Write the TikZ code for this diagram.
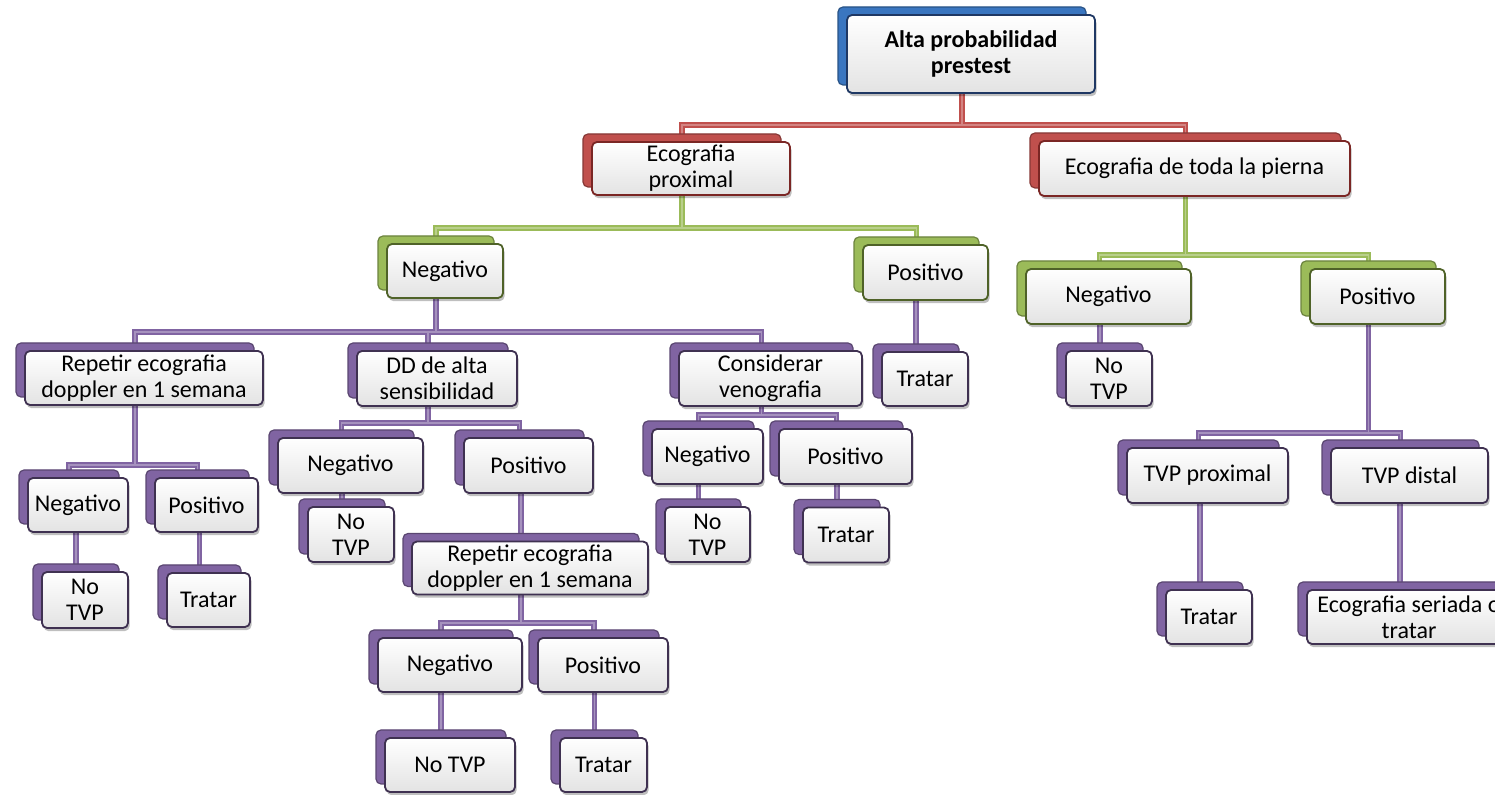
\documentclass[tikz,border=0pt]{standalone}
\usepackage{fontspec}
\setmainfont{Carlito}
\usepackage{tikz}
\usetikzlibrary{positioning,calc,shadows,backgrounds}

\definecolor{azul}{HTML}{3A76C0}
\definecolor{azulosc}{HTML}{1F3864}
\definecolor{rojo}{HTML}{C0504D}
\definecolor{rojoosc}{HTML}{7A2624}
\definecolor{verde}{HTML}{9BBB59}
\definecolor{verdeosc}{HTML}{4F6228}
\definecolor{morado}{HTML}{8064A2}
\definecolor{moradoosc}{HTML}{3F3151}

% ramas: estilo, padre, barra, hijos
\newcommand\rama[4]{%
  \draw[#1] ($(#2)+(-9,0)$) coordinate (p) foreach \h in {#4}{ (p) -- (p |- #3) -| ($(\h)+(-9,0)$) };}
% recta: estilo, padre, hijo
\newcommand\recta[3]{%
  \draw[#1] ($(#3)+(-9,0)$) coordinate (q) -- (q |- #2);}

\begin{document}
\begin{tikzpicture}[x=0.5pt,y=-0.5pt,
    caja/.style={rectangle,rounded corners=2.5pt,line width=0.9pt,top color=white,bottom color=gray!22,
      align=center,inner sep=0.5pt,minimum height=27pt,font=\fontsize{12}{13}\selectfont,
      drop shadow={shadow xshift=0.8pt,shadow yshift=-1.6pt,fill=black,opacity=.25}},
    cajaA/.style={caja,draw=azulosc,copy shadow={shadow xshift=-4.5pt,shadow yshift=4pt,fill=azul,draw=azul!70!black,line width=0.6pt}},
    cajaR/.style={caja,draw=rojoosc,copy shadow={shadow xshift=-4.5pt,shadow yshift=4pt,fill=rojo,draw=rojo!70!black,line width=0.6pt}},
    cajaV/.style={caja,draw=verdeosc,copy shadow={shadow xshift=-4.5pt,shadow yshift=4pt,fill=verde,draw=verde!70!black,line width=0.6pt}},
    cajaP/.style={caja,draw=moradoosc,copy shadow={shadow xshift=-4.5pt,shadow yshift=4pt,fill=morado,draw=morado!70!black,line width=0.6pt}},
    linR/.style={draw=rojo,line width=1pt,double=rojo!70,double distance=0.7pt},
    linV/.style={draw=verde,line width=1pt,double=verde!70,double distance=0.7pt},
    linP/.style={draw=morado,line width=1pt,double=morado!70,double distance=0.7pt}]
  \useasboundingbox (0,0) rectangle (1495,795);

  % nivel 0 y 1
  \node[cajaA,minimum width=124pt,minimum height=39pt,font=\fontsize{12}{13}\selectfont\bfseries] (alta) at (971,54) {Alta probabilidad\\prestest};
  \node[cajaR,minimum width=99pt,minimum height=26.5pt] (ecoP) at (691,168.5) {Ecografia\\proximal};
  \node[cajaR,minimum width=155.5pt,minimum height=27.5pt] (ecoT) at (1194.5,168.5) {Ecografia de toda la pierna};

  % nivel 2
  \node[cajaV,minimum width=58pt] (negA) at (445,271) {Negativo};
  \node[cajaV,minimum width=62.5pt,minimum height=27.5pt] (posA) at (925.5,272.5) {Positivo};
  \node[cajaV,minimum width=82.5pt,minimum height=27.5pt] (negB) at (1108.5,296.5) {Negativo};
  \node[cajaV,minimum width=67.5pt,minimum height=27.5pt] (posB) at (1377.5,296.5) {Positivo};

  % nivel 3
  \node[cajaP,minimum width=119pt] (repA) at (144,378) {Repetir ecografia\\doppler en 1 semana};
  \node[cajaP,minimum width=80pt,minimum height=27.5pt] (dd) at (437,378.5) {DD de alta\\sensibilidad};
  \node[cajaP,minimum width=91.5pt,minimum height=27.5pt] (cons) at (770.5,378.5) {Considerar\\venografia};
  \node[cajaP,minimum width=43pt] (tratA) at (925,379) {Tratar};
  \node[cajaP,minimum width=43pt,minimum height=27.5pt] (notvpB) at (1109,378.5) {No\\TVP};

  % bajo repetir
  \node[cajaP,minimum width=50pt] (negC) at (78,505) {Negativo};
  \node[cajaP,minimum width=51.5pt] (posC) at (206.5,505) {Positivo};
  \node[cajaP,minimum width=43pt,minimum height=28pt] (notvpC) at (85,600) {No\\TVP};
  \node[cajaP,minimum width=41.5pt] (tratC) at (208.5,600) {Tratar};

  % bajo DD
  \node[cajaP,minimum width=72.5pt,minimum height=27.5pt] (negD) at (350.5,465.5) {Negativo};
  \node[cajaP,minimum width=64.5pt,minimum height=27.5pt] (posD) at (528.5,465.5) {Positivo};
  \node[cajaP,minimum width=43pt,minimum height=27.5pt] (notvpD) at (351,534.5) {No\\TVP};
  \node[cajaP,minimum width=118pt,minimum height=26.5pt] (repD) at (530,568) {Repetir ecografia\\doppler en 1 semana};
  \node[cajaP,minimum width=72pt] (negE) at (450,665) {Negativo};
  \node[cajaP,minimum width=65pt] (posE) at (603,665) {Positivo};
  \node[cajaP,minimum width=65pt] (notvpE) at (450,765) {No TVP};
  \node[cajaP,minimum width=43.5pt] (tratE) at (603.5,765) {Tratar};

  % bajo considerar
  \node[cajaP,minimum width=55.5pt,minimum height=27.5pt] (negF) at (707.5,456.5) {Negativo};
  \node[cajaP,minimum width=66.5pt,minimum height=27.5pt] (posF) at (845.5,456.5) {Positivo};
  \node[cajaP,minimum width=42.5pt,minimum height=27.5pt] (notvpF) at (707.5,534.5) {No\\TVP};
  \node[cajaP,minimum width=43pt,minimum height=27.5pt] (tratF) at (846,535) {Tratar};

  % pierna entera
  \node[cajaP,minimum width=80.5pt,minimum height=27.5pt] (tvpP) at (1207.5,475.5) {TVP proximal};
  \node[cajaP,minimum width=78.5pt,minimum height=27.5pt] (tvpD) at (1409.5,475.5) {TVP distal};
  \node[cajaP,minimum width=43pt] (tratG) at (1209,617) {Tratar};
  \node[cajaP,minimum width=102pt] (ecoS) at (1409,617) {Ecografia seriada o\\tratar};

  % barras
  \coordinate (barR) at (0,125);
  \coordinate (barVa) at (0,228);
  \coordinate (barVb) at (0,255);
  \coordinate (barP) at (0,332);
  \coordinate (barRep) at (0,465);
  \coordinate (barDD) at (0,423);
  \coordinate (barRepD) at (0,623);
  \coordinate (barCons) at (0,415);
  \coordinate (barTVP) at (0,433);

  \begin{scope}[on background layer]
    \rama{linR}{alta}{barR}{ecoP,ecoT}
    \rama{linV}{ecoP}{barVa}{negA,posA}
    \rama{linV}{ecoT}{barVb}{negB,posB}
    \rama{linP}{negA}{barP}{repA,dd,cons}
    \recta{linP}{posA}{tratA}
    \recta{linP}{negB}{notvpB}
    \rama{linP}{posB}{barTVP}{tvpP,tvpD}
    \rama{linP}{repA}{barRep}{negC,posC}
    \recta{linP}{negC}{notvpC}
    \recta{linP}{posC}{tratC}
    \rama{linP}{dd}{barDD}{negD,posD}
    \recta{linP}{negD}{notvpD}
    \recta{linP}{posD}{repD}
    \rama{linP}{repD}{barRepD}{negE,posE}
    \recta{linP}{negE}{notvpE}
    \recta{linP}{posE}{tratE}
    \rama{linP}{cons}{barCons}{negF,posF}
    \recta{linP}{negF}{notvpF}
    \recta{linP}{posF}{tratF}
    \recta{linP}{tvpP}{tratG}
    \recta{linP}{tvpD}{ecoS}
  \end{scope}
\end{tikzpicture}
\end{document}
